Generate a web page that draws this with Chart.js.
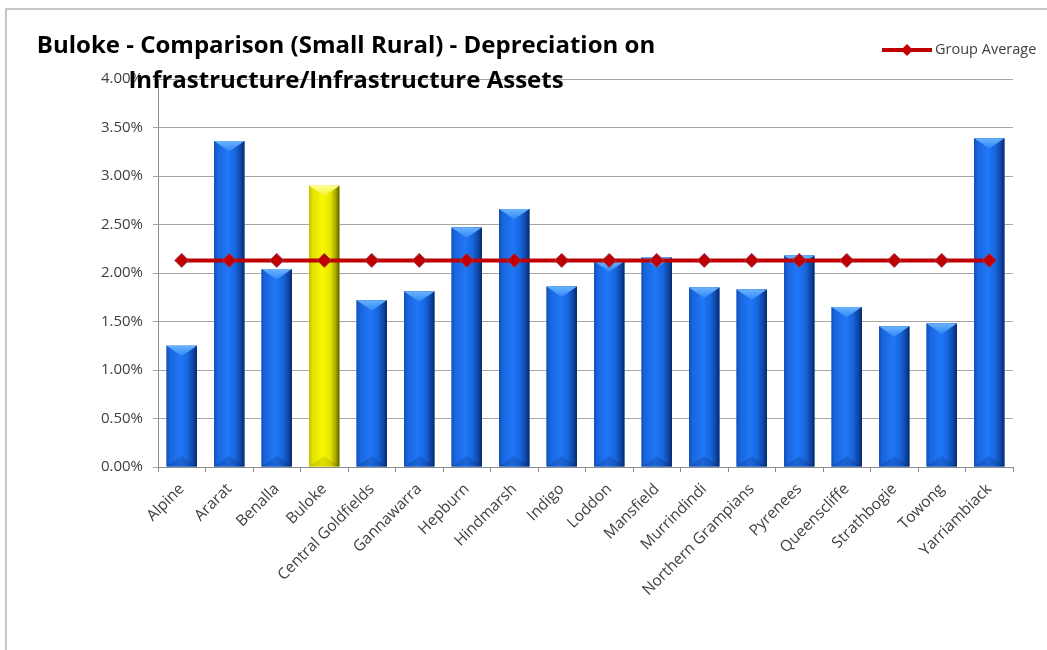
<!DOCTYPE html>
<html>
<head>
<meta charset="utf-8">
<script src="https://cdn.jsdelivr.net/npm/chart.js@4.4.1/dist/chart.umd.min.js"></script>
<style>
  html, body { margin: 0; padding: 0; background: #fff; }
  #wrap { width: 1047px; height: 650px; position: relative; }
</style>
</head>
<body>
<div id="wrap"><canvas id="depChart"></canvas></div>
<script>
// depreciation on infrastructure as % of infrastructure assets
const councils = [
  'Alpine', 'Ararat', 'Benalla', 'Buloke', 'Central Goldfields', 'Gannawarra',
  'Hepburn', 'Hindmarsh', 'Indigo', 'Loddon', 'Mansfield', 'Murrindindi',
  'Northern Grampians', 'Pyrenees', 'Queenscliffe', 'Strathbogie', 'Towong', 'Yarriambiack'
];
const depreciation = [
  1.25, 3.36, 2.04, 2.90, 1.72, 1.81,
  2.47, 2.66, 1.86, 2.12, 2.16, 1.85,
  1.83, 2.18, 1.65, 1.45, 1.48, 3.39
];
const groupAverage = [
  2.13, 2.13, 2.13, 2.13, 2.13, 2.13,
  2.13, 2.13, 2.13, 2.13, 2.13, 2.13,
  2.13, 2.13, 2.13, 2.13, 2.13, 2.13
];
const yMin = 0;
const yMax = 4;
const yStep = 0.5;
const focusCouncil = 'Buloke';
const titleLines = [
  'Buloke - Comparison (Small Rural) - Depreciation on',
  'Infrastructure/Infrastructure Assets'
];
const avgLabel = 'Group Average';

const FONT = '"Open Sans", Lato, sans-serif';
const RED = '#C00000';

const shades = {
  blue: {
    fill: '#1a6ae6',
    body: [[0, '#1450b5'], [0.12, '#1965de'], [0.45, '#2077f6'], [0.7, '#1766de'], [0.88, '#0f46a6'], [1, '#072865']],
    top: ['#6ab4ff', '#2f86f6'],
    bottom: 'rgba(0, 10, 50, 0.16)'
  },
  yellow: {
    fill: '#f0f000',
    body: [[0, '#c0c000'], [0.12, '#e2e200'], [0.45, '#f8f800'], [0.7, '#e6e600'], [0.88, '#a6a600'], [1, '#5a5a00']],
    top: ['#ffff90', '#f2f22a'],
    bottom: 'rgba(70, 70, 0, 0.14)'
  }
};
const barShade = councils.map(c => c === focusCouncil ? shades.yellow : shades.blue);

// white page with the light grey frame round the chart
const frame = {
  id: 'frame',
  beforeDraw(chart) {
    const ctx = chart.ctx;
    ctx.save();
    ctx.fillStyle = '#fff';
    ctx.fillRect(0, 0, chart.width, chart.height);
    ctx.strokeStyle = '#c6c6c6';
    ctx.lineWidth = 2;
    ctx.strokeRect(6, 9, chart.width + 40, chart.height + 40);
    ctx.restore();
  }
};

// Excel-like bevel on each column
const bevel = {
  id: 'bevel',
  afterDatasetDraw(chart, args) {
    if (args.meta.type !== 'bar') return;
    const ctx = chart.ctx;
    ctx.save();
    args.meta.data.forEach((bar, i) => {
      const { x, y, base, width } = bar.getProps(['x', 'y', 'base', 'width'], true);
      const s = barShade[i];
      const l = x - width / 2, r = x + width / 2, h = base - y;
      const g = ctx.createLinearGradient(l, 0, r, 0);
      s.body.forEach(([p, c]) => g.addColorStop(p, c));
      ctx.fillStyle = g;
      ctx.fillRect(l, y, width, h);

      const d = Math.min(width * 0.34, h / 2);
      const tg = ctx.createLinearGradient(0, y, 0, y + d);
      tg.addColorStop(0, s.top[0]);
      tg.addColorStop(1, s.top[1]);
      ctx.fillStyle = tg;
      ctx.beginPath();
      ctx.moveTo(l, y);
      ctx.lineTo(r, y);
      ctx.lineTo(x, y + d);
      ctx.closePath();
      ctx.fill();

      ctx.fillStyle = s.bottom;
      ctx.beginPath();
      ctx.moveTo(l, base);
      ctx.lineTo(r, base);
      ctx.lineTo(x, base - d);
      ctx.closePath();
      ctx.fill();
    });
    ctx.restore();
  }
};

// title sits over the top of the plot, legend at the top right
const heading = {
  id: 'heading',
  afterDraw(chart) {
    const ctx = chart.ctx;
    ctx.save();
    ctx.fillStyle = '#000';
    ctx.font = 'bold 24px ' + FONT;
    ctx.textAlign = 'center';
    ctx.textBaseline = 'middle';
    ctx.fillText(titleLines[0], 346, 46);
    ctx.fillText(titleLines[1], 346, 81);

    const ly = 50;
    ctx.strokeStyle = RED;
    ctx.lineWidth = 4;
    ctx.beginPath();
    ctx.moveTo(882, ly);
    ctx.lineTo(932, ly);
    ctx.stroke();
    ctx.fillStyle = RED;
    ctx.beginPath();
    ctx.moveTo(907, ly - 6);
    ctx.lineTo(913, ly);
    ctx.lineTo(907, ly + 6);
    ctx.lineTo(901, ly);
    ctx.closePath();
    ctx.fill();
    ctx.fillStyle = '#404040';
    ctx.font = '14.5px ' + FONT;
    ctx.textAlign = 'left';
    ctx.fillText(avgLabel, 935, ly);
    ctx.restore();
  }
};

new Chart(document.getElementById('depChart'), {
  data: {
    labels: councils,
    datasets: [
      {
        type: 'line',
        label: avgLabel,
        data: groupAverage,
        order: 0,
        borderColor: RED,
        borderWidth: 4,
        pointStyle: 'rectRot',
        pointRadius: 7,
        pointBackgroundColor: RED,
        pointBorderColor: '#9b3a5c',
        pointBorderWidth: 1
      },
      {
        type: 'bar',
        label: 'Depreciation',
        data: depreciation,
        order: 1,
        backgroundColor: barShade.map(s => s.fill),
        categoryPercentage: 1,
        barPercentage: 0.64
      }
    ]
  },
  options: {
    responsive: true,
    maintainAspectRatio: false,
    animation: false,
    layout: { padding: { top: 79, right: 34, bottom: 0, left: 0 } },
    plugins: {
      legend: { display: false },
      title: { display: false },
      tooltip: { enabled: false }
    },
    scales: {
      x: {
        grid: { display: true, drawOnChartArea: false, drawTicks: true, tickLength: 5, color: '#8c8c8c' },
        border: { display: true, color: '#8c8c8c' },
        ticks: {
          autoSkip: false, minRotation: 45, maxRotation: 45, padding: 8,
          color: '#404040', font: { family: FONT, size: 15.5 }
        },
        afterFit(scale) { scale.height = 183; }
      },
      y: {
        min: yMin,
        max: yMax,
        grid: { color: '#a6a6a6', tickLength: 5 },
        border: { display: true, color: '#8c8c8c' },
        ticks: {
          stepSize: yStep, padding: 10,
          color: '#404040', font: { family: FONT, size: 15 },
          callback: v => v.toFixed(2) + '%'
        },
        afterFit(scale) { scale.width = 158; }
      }
    }
  },
  plugins: [frame, bevel, heading]
});
</script>
</body>
</html>
